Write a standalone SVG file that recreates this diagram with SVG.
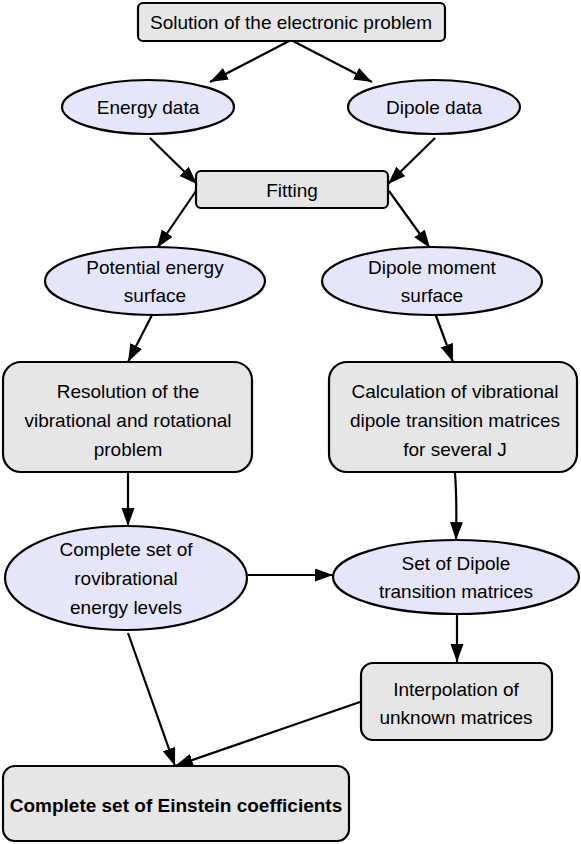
<svg xmlns="http://www.w3.org/2000/svg" width="581" height="844" viewBox="0 0 581 844">
<style>
.box{fill:#e6e6e6;stroke:#000;stroke-width:2.2}
.ell{fill:#e6e6fa;stroke:#000;stroke-width:2.2}
text{font-family:"Liberation Sans",Arial,sans-serif;font-size:19px;fill:#000;text-anchor:middle}
.b{font-weight:bold}
.c{stroke:#000;stroke-width:2.2;fill:none;marker-end:url(#ah)}
</style>
<defs>
<marker id="ah" markerUnits="userSpaceOnUse" markerWidth="20" markerHeight="14" refX="18" refY="6.5" orient="auto">
<path d="M0,0 L18,6.5 L0,13 z" fill="#000"/>
</marker>
</defs>
<rect width="581" height="844" fill="#fff"/>
<g id="connectors">
<line class="c" x1="291" y1="40" x2="210" y2="82"/>
<line class="c" x1="291" y1="40" x2="372" y2="82"/>
<line class="c" x1="150" y1="138" x2="197" y2="184"/>
<line class="c" x1="435" y1="138" x2="388" y2="184"/>
<line class="c" x1="196" y1="191" x2="157" y2="248"/>
<line class="c" x1="389" y1="191" x2="430" y2="248"/>
<line class="c" x1="153" y1="313" x2="128" y2="362"/>
<line class="c" x1="435" y1="313" x2="453" y2="362"/>
<line class="c" x1="128" y1="473" x2="128" y2="526"/>
<path class="c" d="M455,473 Q457,500 456,540"/>
<line class="c" x1="248" y1="575" x2="333" y2="575"/>
<line class="c" x1="457" y1="614" x2="457" y2="662"/>
<line class="c" x1="128" y1="633" x2="175" y2="766"/>
<line class="c" x1="360" y1="702" x2="175" y2="766"/>
</g>
<g id="n1"><rect class="box" x="138" y="3" width="307" height="38" rx="5"/><text x="291" y="29">Solution of the electronic problem</text></g>
<g id="n2"><ellipse class="ell" cx="148" cy="107" rx="86" ry="27"/><text x="148" y="114">Energy data</text></g>
<g id="n3"><ellipse class="ell" cx="434" cy="107" rx="86" ry="27"/><text x="434" y="114">Dipole data</text></g>
<g id="n4"><rect class="box" x="196" y="171" width="192" height="37" rx="5"/><text x="292" y="197">Fitting</text></g>
<g id="n5"><ellipse class="ell" cx="155" cy="281" rx="110" ry="34"/><text x="155" y="274">Potential energy</text><text x="155" y="302">surface</text></g>
<g id="n6"><ellipse class="ell" cx="432" cy="281" rx="110" ry="34"/><text x="432" y="274">Dipole moment</text><text x="432" y="302">surface</text></g>
<g id="n7"><rect class="box" x="3" y="362" width="249" height="110" rx="18"/><text x="128" y="398">Resolution of the</text><text x="128" y="427">vibrational and rotational</text><text x="128" y="456">problem</text></g>
<g id="n8"><rect class="box" x="329" y="362" width="248" height="110" rx="18"/><text x="455" y="398">Calculation of vibrational</text><text x="455" y="427">dipole transition matrices</text><text x="455" y="456">for several J</text></g>
<g id="n9"><ellipse class="ell" cx="126" cy="578" rx="121" ry="52"/><text x="126" y="556">Complete set of</text><text x="126" y="585">rovibrational</text><text x="126" y="614">energy levels</text></g>
<g id="n10"><ellipse class="ell" cx="456" cy="577" rx="123" ry="37"/><text x="456" y="570">Set of Dipole</text><text x="456" y="598">transition matrices</text></g>
<g id="n11"><rect class="box" x="361" y="663" width="191" height="77" rx="12"/><text x="456" y="696">Interpolation of</text><text x="456" y="724">unknown matrices</text></g>
<g id="n12"><rect class="box" x="3" y="766" width="346" height="75" rx="12"/><text class="b" x="176" y="812">Complete set of Einstein coefficients</text></g>
</svg>
